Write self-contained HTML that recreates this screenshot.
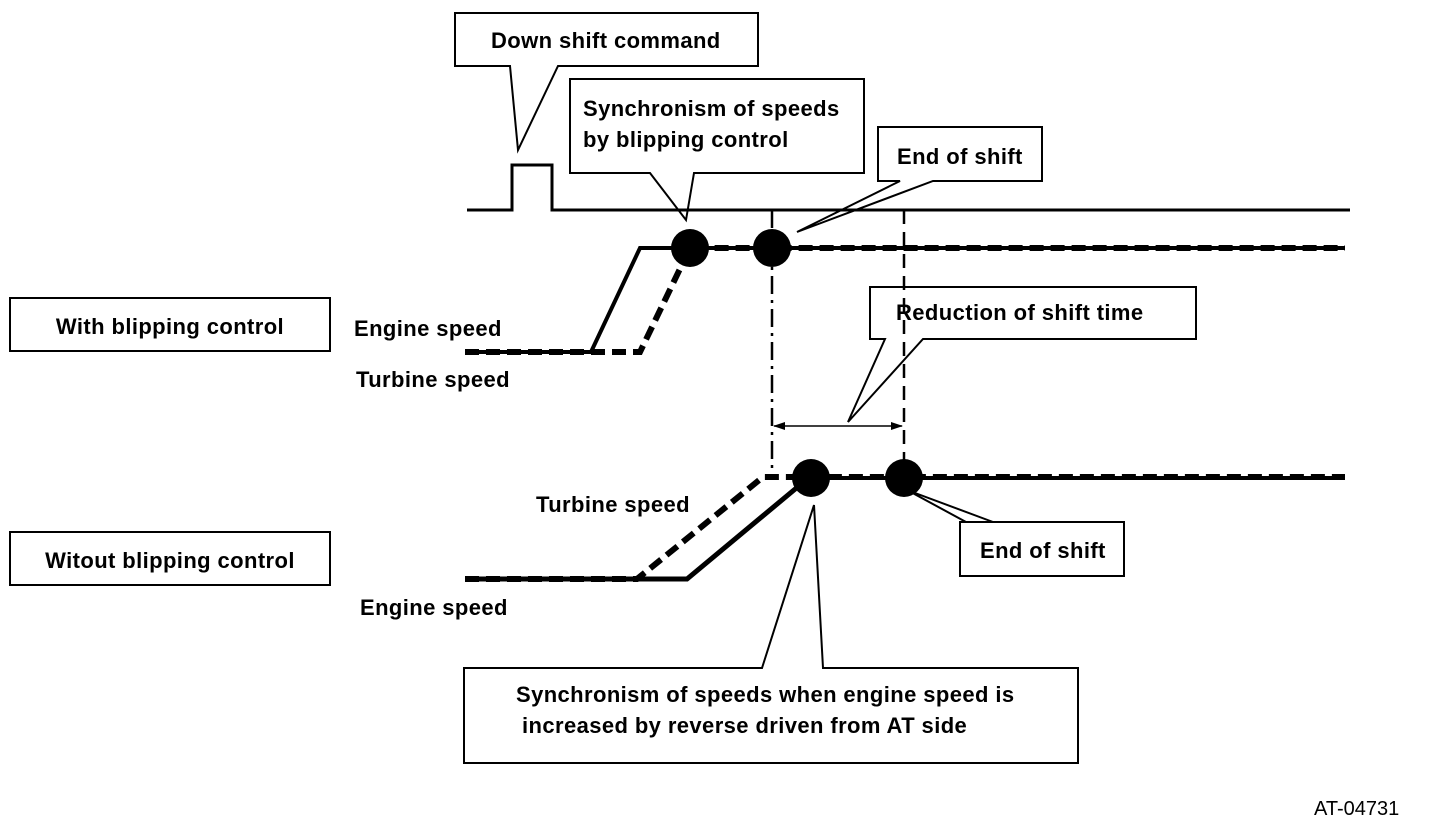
<!DOCTYPE html>
<html><head><meta charset="utf-8"><style>
html,body{margin:0;padding:0;background:#fff;}
svg{display:block;}
text{font-family:"Liberation Sans",Arial,sans-serif;font-weight:bold;font-size:22px;letter-spacing:0.4px;fill:#000;}
</style></head><body>
<svg width="1440" height="840" viewBox="0 0 1440 840" xmlns="http://www.w3.org/2000/svg">
<defs>
<marker id="ah" markerWidth="12" markerHeight="8" refX="11" refY="4" orient="auto" markerUnits="userSpaceOnUse">
<path d="M0,0 L12,4 L0,8 z" fill="#000"/></marker>
<marker id="ahs" markerWidth="12" markerHeight="8" refX="1" refY="4" orient="auto" markerUnits="userSpaceOnUse">
<path d="M12,0 L0,4 L12,8 z" fill="#000"/></marker>
</defs>
<g fill="#fff" stroke="#000" stroke-width="2">
<path d="M455,13 H758 V66 H558 L518,150 L510,66 H455 Z"/>
<path d="M570,79 H864 V173 H694 L686,220 L650,173 H570 Z"/>
<path d="M878,127 H1042 V181 H933 L797,232 L900,181 H878 Z"/>
<path d="M870,287 H1196 V339 H923 L848,422 L885,339 H870 Z"/>
<path d="M960,522 H993 L907,490 L966,522 H1124 V576 H960 Z"/>
<path d="M464,668 H762 L814,505 L823,668 H1078 V763 H464 Z"/>
<rect x="10" y="298" width="320" height="53"/>
<rect x="10" y="532" width="320" height="53"/>
</g>
<path d="M467,210 H512 V165 H552 V210 H1350" fill="none" stroke="#000" stroke-width="3"/>
<line x1="772" y1="210" x2="772" y2="476" stroke="#000" stroke-width="2.5" stroke-dasharray="18,6,3,6"/>
<line x1="904" y1="210" x2="904" y2="462" stroke="#000" stroke-width="2.5" stroke-dasharray="14,8"/>
<line x1="774" y1="426" x2="902" y2="426" stroke="#000" stroke-width="1.5" marker-end="url(#ah)" marker-start="url(#ahs)"/>
<!-- upper traces -->
<path d="M465,352 H591 L640,248 H1345" fill="none" stroke="#000" stroke-width="4"/>
<path d="M465,352 H640 L690,248 H1345" fill="none" stroke="#000" stroke-width="6" stroke-dasharray="14,7"/>
<circle cx="690" cy="248" r="19" fill="#000"/>
<circle cx="772" cy="248" r="19" fill="#000"/>
<!-- lower traces -->
<path d="M465,579 H687 L800,485" fill="none" stroke="#000" stroke-width="5"/>
<path d="M811,478 H1345" fill="none" stroke="#000" stroke-width="4"/>
<path d="M465,579 H637 L763,477 H1345" fill="none" stroke="#000" stroke-width="6" stroke-dasharray="14,7"/>
<circle cx="811" cy="478" r="19" fill="#000"/>
<circle cx="904" cy="478" r="19" fill="#000"/>
<text x="491" y="48">Down shift command</text>
<text x="583" y="116">Synchronism of speeds</text>
<text x="583" y="147">by blipping control</text>
<text x="897" y="164">End of shift</text>
<text x="896" y="320">Reduction of shift time</text>
<text x="980" y="558">End of shift</text>
<text x="516" y="702">Synchronism of speeds when engine speed is</text>
<text x="522" y="733">increased by reverse driven from AT side</text>
<text x="170" y="334" text-anchor="middle">With blipping control</text>
<text x="170" y="568" text-anchor="middle">Witout blipping control</text>
<text x="354" y="336">Engine speed</text>
<text x="356" y="387">Turbine speed</text>
<text x="536" y="512">Turbine speed</text>
<text x="360" y="615">Engine speed</text>
<text x="1314" y="815" style="font-weight:normal;font-size:20px;letter-spacing:0">AT-04731</text>
</svg>
</body></html>
